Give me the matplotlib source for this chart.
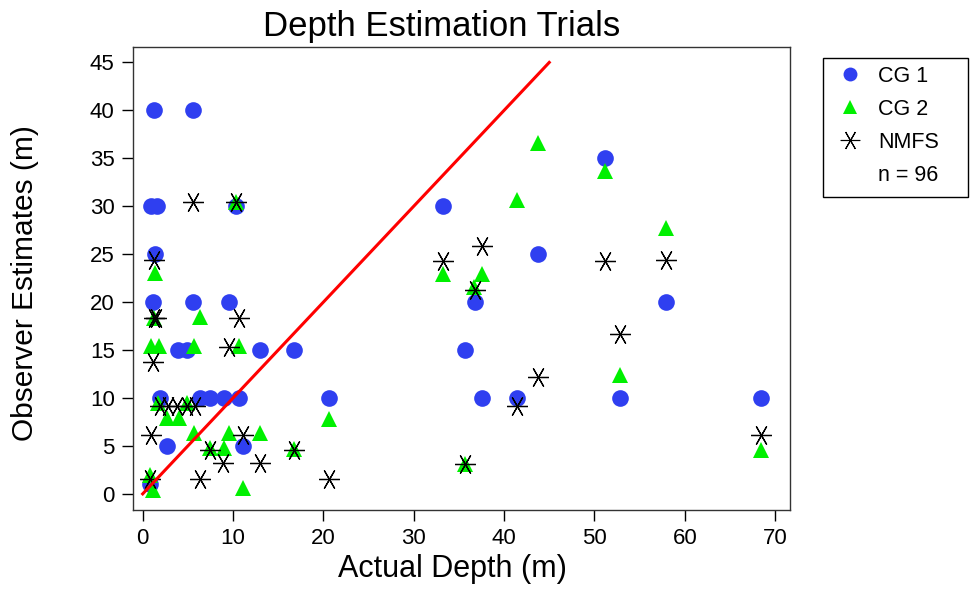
import matplotlib.pyplot as plt
from matplotlib.lines import Line2D
from matplotlib.patches import Rectangle

plt.rcParams['font.family'] = ['Liberation Sans', 'DejaVu Sans']

# CG 1 (blue circles)
cg1_x = [1.2, 5.6, 0.9, 1.6, 10.3, 1.4, 1.1, 5.6, 9.5, 3.9, 4.9, 13.0, 16.8,
         1.9, 6.4, 7.4, 9.0, 10.7, 2.7, 11.1, 0.8, 20.6, 33.2, 35.7, 36.8,
         37.6, 41.4, 43.8, 51.2, 52.8, 57.9, 68.4]
cg1_y = [40, 40, 30, 30, 30, 25, 20, 20, 20, 15, 15, 15, 15,
         10, 10, 10, 10, 10, 5, 5, 1, 10, 30, 15, 20,
         10, 10, 25, 35, 10, 20, 10]

# CG 2 (green triangles)
cg2_x = [10.3, 1.4, 1.2, 6.4, 0.9, 1.8, 5.7, 10.7, 1.7, 4.9, 2.7, 4.0,
         5.7, 9.5, 13.0, 7.4, 9.0, 0.8, 1.1, 11.1, 16.8, 20.6, 43.7, 51.2,
         41.4, 33.2, 37.6, 36.7, 35.7, 57.9, 52.8, 68.4]
cg2_y = [30.4, 23, 18.3, 18.5, 15.4, 15.4, 15.4, 15.4, 9.5, 9.5, 7.9, 7.9,
         6.3, 6.3, 6.3, 4.8, 4.8, 2.0, 0.4, 0.6, 4.7, 7.8, 36.6, 33.7,
         30.6, 22.9, 22.9, 21.6, 3.1, 27.7, 12.4, 4.6]

# NMFS (black asterisks)
nmfs_x = [5.6, 10.3, 1.2, 1.3, 1.5, 10.7, 9.5, 1.1, 1.9, 2.8, 3.8, 4.9,
          5.8, 0.9, 11.1, 7.4, 8.9, 13.0, 6.4, 0.8, 16.8, 20.6, 33.2, 37.6,
          36.8, 51.2, 43.7, 41.4, 35.7, 57.9, 52.8, 68.4]
nmfs_y = [30.4, 30.4, 24.4, 18.3, 18.3, 18.3, 15.3, 13.8, 9.2, 9.2, 9.2, 9.2,
          9.2, 6.1, 6.1, 4.6, 3.2, 3.2, 1.5, 1.5, 4.6, 1.5, 24.3, 25.9,
          21.3, 24.3, 12.2, 9.2, 3.1, 24.4, 16.7, 6.1]

n_total = len(cg1_x) + len(cg2_x) + len(nmfs_x)
line_ends = [0, 45]

star = (6, 2, 30)
W, H = 976, 596

fig = plt.figure(figsize=(9.76, 5.96), dpi=100)
ax = fig.add_axes([0.136, 0.144, 0.673, 0.777])

ax.plot(cg1_x, cg1_y, 'o', color='#2f3ff0', markersize=12,
        markeredgewidth=0, zorder=2)
ax.plot(cg2_x, cg2_y, '^', color='#00f000', markersize=12,
        markeredgewidth=0, zorder=3)
ax.plot(nmfs_x, nmfs_y, marker=star, linestyle='none', color='black',
        markersize=15, markeredgewidth=0.9, zorder=4)
ax.plot(line_ends, line_ends, color='#ff0000', linewidth=2.2, zorder=5)

ax.set_xlim(-1.1, 71.6)
ax.set_ylim(-1.7, 46.6)
ax.set_xticks(range(0, 71, 10))
ax.set_yticks(range(0, 46, 5))
ax.tick_params(direction='out', length=8, width=1, labelsize=16, pad=5)
for s in ax.spines.values():
    s.set_linewidth(1)
    s.set_color('#333333')

ax.set_xlabel('Actual Depth (m)', fontsize=22)
ax.xaxis.set_label_coords(0.486, -0.095)
ax.set_ylabel('Observer Estimates (m)', fontsize=21.5)
ax.yaxis.set_label_coords(-0.143, 0.49)
ax.set_title('Depth Estimation Trials', fontsize=25, x=0.47, pad=8)

# legend box
fig.patches.append(Rectangle((823 / W, 1 - 197 / H), 145 / W, 139 / H,
                             transform=fig.transFigure, fill=False,
                             edgecolor='black', linewidth=1))

handles = [
    Line2D([], [], marker='o', color='#2f3ff0', linestyle='none',
           markersize=10, markeredgewidth=0),
    Line2D([], [], marker='^', color='#00f000', linestyle='none',
           markersize=10, markeredgewidth=0),
    Line2D([], [], marker=star, color='black', linestyle='none',
           markersize=14, markeredgewidth=0.8),
    Line2D([], [], linestyle='none'),
]
labels = ['CG 1', 'CG 2', 'NMFS', f'n = {n_total}']
leg = fig.legend(handles, labels, loc='upper left',
                 bbox_to_anchor=(833 / W, 1 - 66 / H),
                 fontsize=15.5, frameon=False, borderaxespad=0, borderpad=0,
                 handletextpad=0.5, labelspacing=0.55, handlelength=1.6)

fig.savefig('out.png', dpi=100)
